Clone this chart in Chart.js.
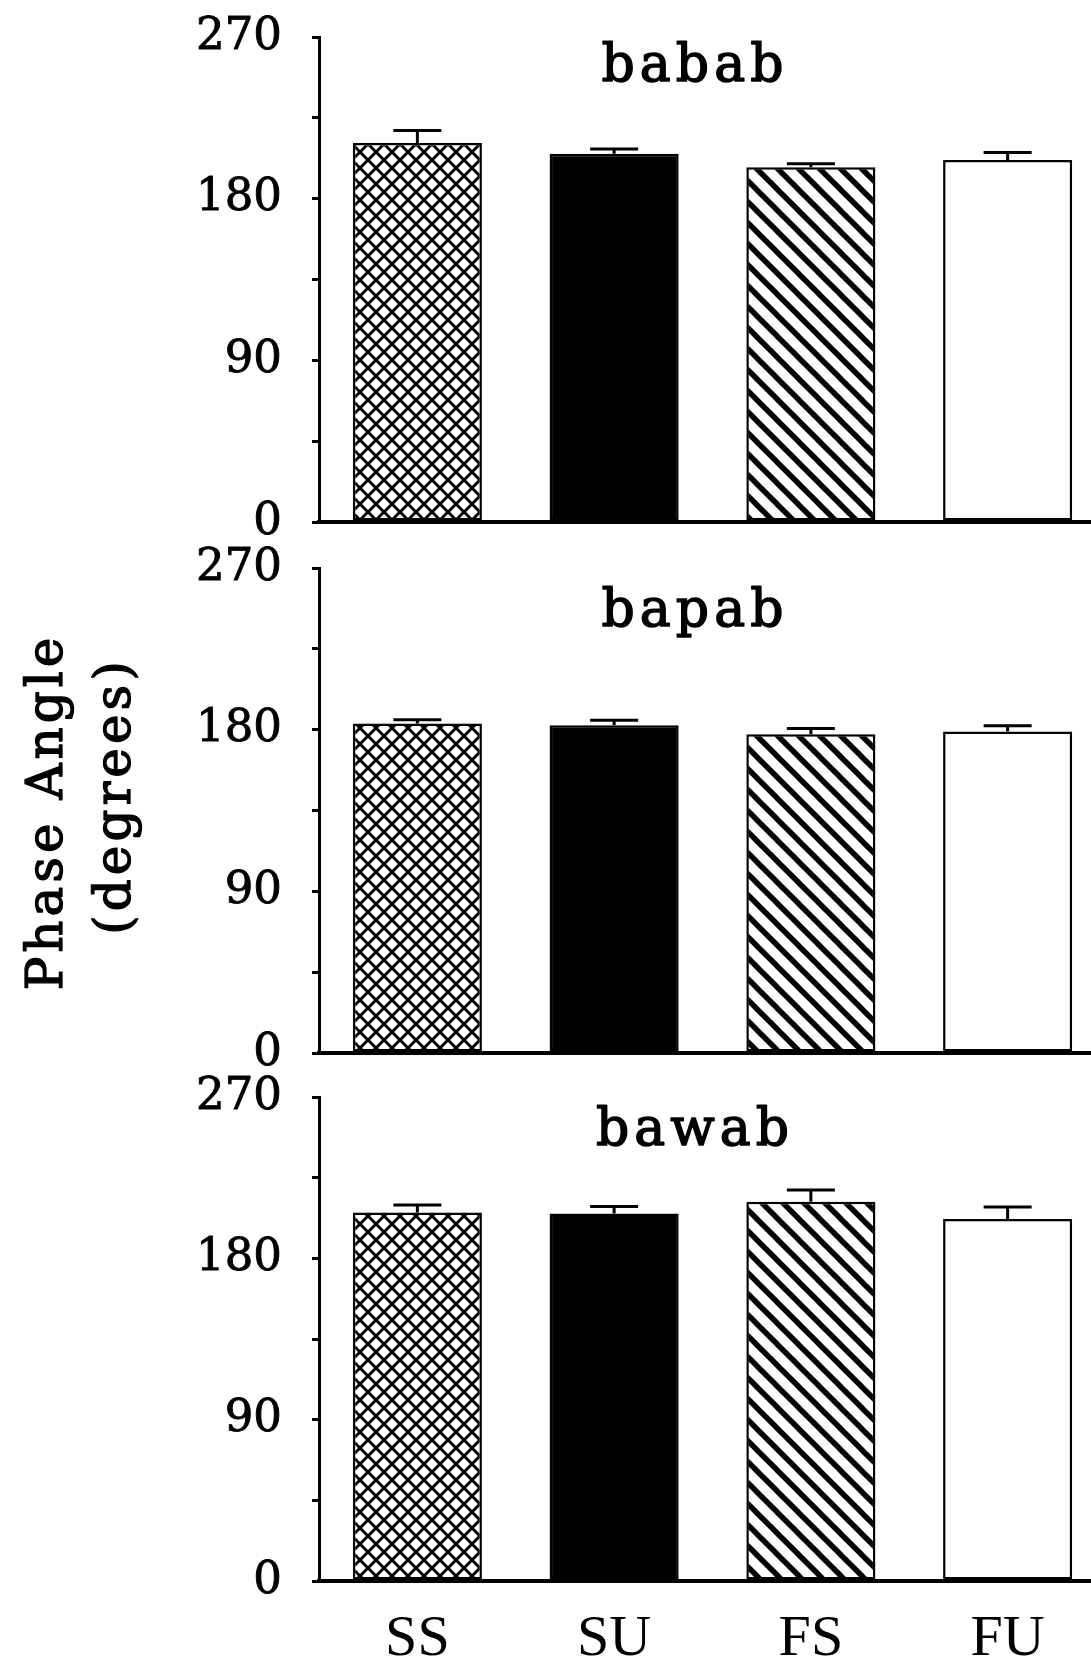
<!DOCTYPE html>
<html>
<head>
<meta charset="utf-8">
<script src="https://cdn.jsdelivr.net/npm/chart.js@4.4.1/dist/chart.umd.min.js"></script>
<style>
html, body { margin: 0; padding: 0; background: #fff; overflow: hidden; }
#wrap { position: relative; width: 1091px; height: 1667px; overflow: hidden; background: #fff; }
#wrap canvas { position: absolute; left: 0; top: 0; }
</style>
</head>
<body>
<div id="wrap">
  <canvas id="c1" width="1106" height="1667"></canvas>
  <canvas id="c2" width="1106" height="1667"></canvas>
  <canvas id="c3" width="1106" height="1667"></canvas>
</div>
<script>
// ---------- data ----------
const categories = ['SS', 'SU', 'FS', 'FU'];
const panelTitles = ['babab', 'bapab', 'bawab'];
const bababMeans  = [211, 205, 197.5, 201.5];
const bababErrors = [7, 2.6, 2, 4.2];
const bapabMeans  = [183.5, 182.5, 177.5, 179];
const bapabErrors = [2, 2.7, 3.1, 3.2];
const bawabMeans  = [205.5, 205, 211.5, 202];
const bawabErrors = [4.2, 3.9, 6.6, 6.6];
const yTickValues = [0, 45, 90, 135, 180, 225, 270];
const yTickLabels = ['0', '', '90', '', '180', '', '270'];
const yAxisTitleLines = ['Phase Angle', '(degrees)'];

// ---------- layout (pixels) ----------
const H = 1667;
const AXIS_LEFT = 319;
const panels = [
  { top: 37,   base: 522,  titleDy: 44 },
  { top: 568,  base: 1053, titleDy: 58 },
  { top: 1097, base: 1581, titleDy: 48 }
];
const TITLE_DX = 376;
const yTitlePos = [ { x: 62, y: 812 }, { x: 130, y: 796 } ];
const SERIF = '"DejaVu Serif", serif';

// ---------- fills ----------
function makePattern(kind) {
  const P = kind === 'cross' ? 16 : 21;
  const c = document.createElement('canvas');
  c.width = P; c.height = P;
  const g = c.getContext('2d');
  g.fillStyle = '#fff'; g.fillRect(0, 0, P, P);
  g.strokeStyle = '#000';
  g.lineWidth = kind === 'cross' ? 3 : 5.5;
  for (let k = -1; k <= 1; k++) {
    g.beginPath(); g.moveTo(k * P - P, -P); g.lineTo(k * P + 2 * P, 2 * P); g.stroke();
    if (kind === 'cross') {
      g.beginPath(); g.moveTo(k * P - P, 2 * P); g.lineTo(k * P + 2 * P, -P); g.stroke();
    }
  }
  return g.createPattern(c, 'repeat');
}
const crossFill = makePattern('cross');
const stripeFill = makePattern('stripe');
const barFills = [crossFill, '#000000', stripeFill, '#ffffff'];

// ---------- plugins ----------
const errorBarPlugin = {
  id: 'errorBars',
  afterDatasetsDraw(chart) {
    const ctx = chart.ctx;
    const ys = chart.scales.y;
    chart.data.datasets.forEach((ds, di) => {
      const meta = chart.getDatasetMeta(di);
      ctx.save();
      ctx.strokeStyle = '#000';
      ctx.lineWidth = 3;
      meta.data.forEach((bar, i) => {
        const yTop = ys.getPixelForValue(ds.data[i] + ds.errors[i]);
        ctx.beginPath();
        ctx.moveTo(bar.x, bar.y);
        ctx.lineTo(bar.x, yTop);
        ctx.moveTo(bar.x - 24, yTop);
        ctx.lineTo(bar.x + 24, yTop);
        ctx.stroke();
      });
      ctx.restore();
    });
  }
};

function typeText(ctx, text, x, y, size, spacing, weight, rot) {
  ctx.save();
  ctx.letterSpacing = spacing + 'px';
  ctx.font = size + 'px ' + SERIF;
  ctx.fillStyle = '#000';
  ctx.strokeStyle = '#000';
  ctx.lineWidth = weight;
  ctx.lineJoin = 'round';
  ctx.textAlign = 'center';
  ctx.textBaseline = 'alphabetic';
  ctx.translate(x, y);
  if (rot) ctx.rotate(rot);
  ctx.fillText(text, 0, 0);
  ctx.strokeText(text, 0, 0);
  ctx.restore();
}

const panelTitlePlugin = {
  id: 'panelTitle',
  afterDraw(chart, args, opts) {
    const a = chart.chartArea;
    typeText(chart.ctx, opts.text, a.left + TITLE_DX, a.top + opts.dy, 52, 5, 1.5, 0);
  }
};

const yTitlePlugin = {
  id: 'yTitle',
  afterDraw(chart) {
    yAxisTitleLines.forEach((line, i) => {
      typeText(chart.ctx, line, yTitlePos[i].x, yTitlePos[i].y, 50, 4, 1.3, -Math.PI / 2);
    });
  }
};

// ---------- charts ----------
function makeChart(id, idx, means, errors, isBottom, extra) {
  const g = panels[idx];
  return new Chart(document.getElementById(id).getContext('2d'), {
    type: 'bar',
    data: {
      labels: categories,
      datasets: [{
        data: means,
        errors: errors,
        backgroundColor: barFills,
        borderColor: '#000',
        borderWidth: 2.5,
        borderSkipped: false,
        barPercentage: 0.656,
        categoryPercentage: 1
      }]
    },
    options: {
      responsive: false,
      animation: false,
      devicePixelRatio: 1,
      events: [],
      layout: { padding: { top: g.top, left: 0, right: 0, bottom: 0 } },
      plugins: {
        legend: { display: false },
        tooltip: { enabled: false },
        panelTitle: { text: panelTitles[idx], dy: g.titleDy }
      },
      scales: {
        x: {
          z: 1,
          grid: { display: false },
          border: { display: true, color: '#000', width: 4 },
          ticks: {
            display: isBottom,
            color: '#000',
            font: { family: '"Liberation Serif", serif', size: 58 },
            padding: 16
          },
          afterFit(s) { s.height = H - g.base; }
        },
        y: {
          min: 0,
          max: 270,
          afterBuildTicks(s) { s.ticks = yTickValues.map(v => ({ value: v })); },
          ticks: {
            callback: (v, i) => yTickLabels[i],
            color: '#000',
            font: { family: SERIF, size: 45 },
            textStrokeColor: '#000',
            textStrokeWidth: 0.9,
            padding: 30
          },
          grid: { display: true, drawOnChartArea: false, drawTicks: true, tickLength: 7, color: '#000', lineWidth: 3 },
          border: { display: true, color: '#000', width: 3 },
          afterFit(s) { s.width = AXIS_LEFT; s.paddingTop = 0; s.paddingBottom = 0; }
        }
      }
    },
    plugins: [errorBarPlugin, panelTitlePlugin].concat(extra || [])
  });
}

makeChart('c1', 0, bababMeans, bababErrors, false);
makeChart('c2', 1, bapabMeans, bapabErrors, false, [yTitlePlugin]);
makeChart('c3', 2, bawabMeans, bawabErrors, true);
</script>
</body>
</html>
